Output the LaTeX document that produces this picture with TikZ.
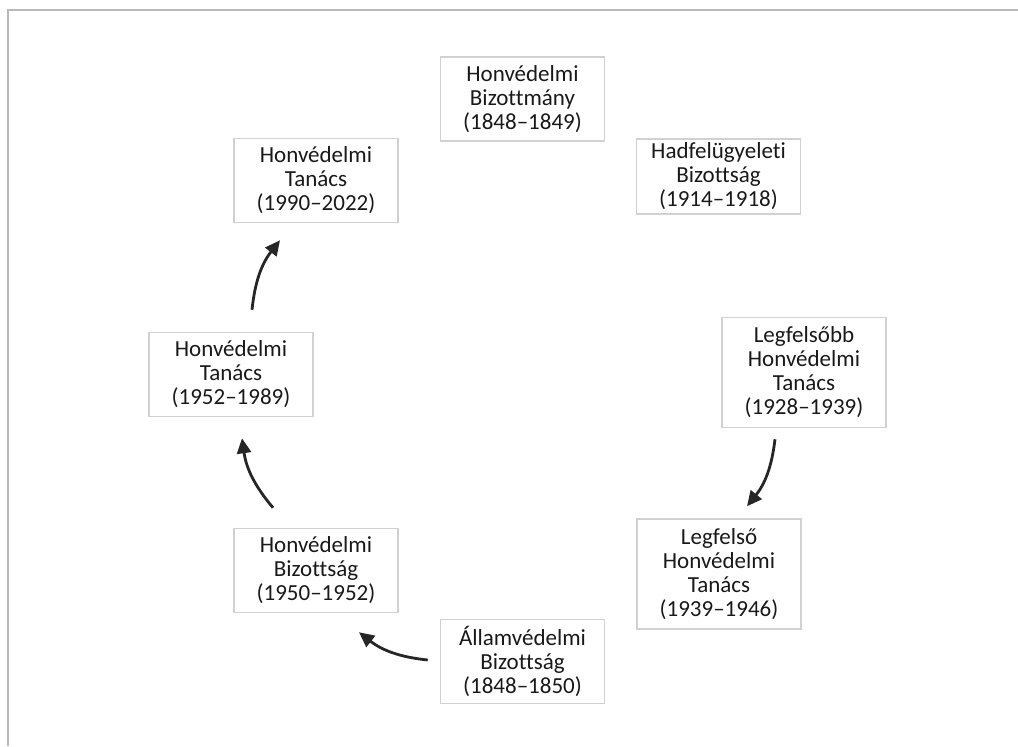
\documentclass[tikz,border=0pt]{standalone}
\usepackage{fontspec}
\setmainfont{Carlito}[Ligatures={TeX,NoCommon}]
\usepackage{tikz}
\usetikzlibrary{arrows.meta}

\begin{document}
\begin{tikzpicture}[
  x=0.5pt, y=-0.5pt,
  every node/.style={font=\fontsize{11.5}{12}\selectfont, text=black!90},
  box/.style={draw=black!18, line width=0.75pt, inner sep=2pt,
              text width=78pt, align=center, minimum width=82pt,
              minimum height=42pt},
  tall/.style={box, minimum height=55pt},
  flow/.style={-{Triangle[length=7.5pt, width=7pt]}, line width=1.4pt,
               black!85, bend left=16},
]
  \useasboundingbox (0,0) rectangle (1018,746);
  % Frame
  \draw[black!28, line width=1pt] (1018,9.5) -- (7.5,9.5) -- (7.5,746);

  % Top row
  \node[box] (hb) at (522.5, 99)
    {Honvédelmi\\ Bizottmány\\ (1848--1849)};
  \node[box, minimum height=37.5pt] (hf) at (718.5,176.5)
    {Hadfelügyeleti\\ Bizottság\\ (1914--1918)};
  \node[box] (ht2) at (316,180.5)
    {Honvédelmi\\ Tanács\\ (1990--2022)};

  % Middle row
  \node[tall] (lht1) at (804,372.5)
    {Legfelsőbb\\ Honvédelmi\\ Tanács\\ (1928--1939)};
  \node[box] (ht1) at (231,374.5)
    {Honvédelmi\\ Tanács\\ (1952--1989)};

  % Bottom row
  \node[tall] (lht2) at (719,574)
    {Legfelső\\ Honvédelmi\\ Tanács\\ (1939--1946)};
  \node[box] (hbz) at (316,570.5)
    {Honvédelmi\\ Bizottság\\ (1950--1952)};
  \node[box] (ab) at (522.5,661.5)
    {Államvédelmi\\ Bizottság\\ (1848--1850)};

  % Arrows
  \draw[flow] ([shift={(-29,11)}]lht1.south) to ([shift={(28,-12)}]lht2.north);
  \draw[flow] ([shift={(-12,-1.5)}]ab.west) to ([shift={(43,19)}]hbz.south);
  \draw[flow] ([shift={(-43,-20)}]hbz.north) to ([shift={(11,21)}]ht1.south);
  \draw[flow] ([shift={(21,-22)}]ht1.north) to ([shift={(-36,17)}]ht2.south);
\end{tikzpicture}
\end{document}
